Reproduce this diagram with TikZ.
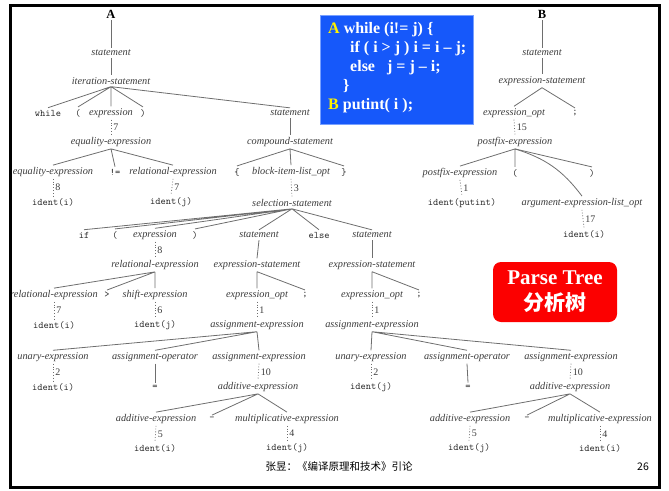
\documentclass[tikz,border=0pt]{standalone}
\usepackage{fontspec}
\setmainfont{Liberation Serif}
\newfontfamily\cjk{Noto Sans CJK SC}

\definecolor{treetext}{RGB}{60,60,60}
\definecolor{treeline}{RGB}{110,110,110}
\definecolor{codeblue}{RGB}{22,88,250}
\definecolor{codeedge}{RGB}{120,160,255}
\definecolor{tagred}{RGB}{252,0,0}

\tikzset{
  nt/.style={font=\fontsize{10.3}{12}\selectfont\itshape, text=treetext, inner sep=2pt},
  tok/.style={font=\fontsize{10}{12}\selectfont\ttfamily, text=treetext!70!black, inner sep=2pt},
  rootlabel/.style={font=\fontsize{12.5}{14}\selectfont\bfseries, text=black, inner sep=2pt},
  branch/.style={draw=treeline, line width=0.8pt},
  dotbranch/.style={draw=treeline, line width=0.8pt, dotted},
  num/.style={font=\fontsize{10}{12}\selectfont, text=treetext, anchor=west, inner sep=1pt, xshift=1pt},
  codebox/.style={fill=codeblue, draw=codeedge, line width=0.8pt,
    minimum width=153pt, minimum height=109pt},
  codetext/.style={text=white, font=\fontsize{16}{19}\selectfont\bfseries,
    align=left, inner sep=0pt, anchor=west},
  tagbox/.style={fill=tagred, rounded corners=8pt, text=white, align=center,
    font=\fontsize{21}{26}\selectfont\bfseries, minimum width=124pt, minimum height=60pt}
}

\begin{document}
\begin{tikzpicture}[x=1pt, y=-1pt]

\useasboundingbox (0,0) rectangle (669,490);

% tree A
\node[rootlabel] (A) at (111,14) {A};
\node[nt] (stmtA) at (111,53) {statement};
\node[nt] (iterA) at (111,81) {iteration-statement};
\node[tok] (while) at (48,113) {while};
\node[tok] (wlp) at (78,113) {(};
\node[nt] (wexpr) at (111,113) {expression};
\node[tok] (wrp) at (143,113) {)};
\node[nt] (body) at (290,113) {statement};
\node[nt] (eqexpr) at (111,142) {equality-expression};
\node[nt] (eqleft) at (53,172) {equality-expression};
\node[tok] (neq) at (115,172) {!=};
\node[nt] (relright) at (173,172) {relational-expression};
\node[tok] (idi1) at (53,202) {ident(i)};
\node[tok] (idj1) at (171,202) {ident(j)};
\node[nt] (compound) at (290,142) {compound-statement};
\node[tok] (lbrace) at (237,172) {\{};
\node[nt] (blocklist) at (291,172) {block-item-list\_opt};
\node[tok] (rbrace) at (344,172) {\}};
\node[nt] (select) at (292,203) {selection-statement};
\node[tok] (if) at (84,235) {if};
\node[tok] (ilp) at (115,235) {(};
\node[nt] (iexpr) at (155,235) {expression};
\node[tok] (irp) at (195,235) {)};
\node[nt] (thenst) at (259,235) {statement};
\node[tok] (else) at (319,235) {else};
\node[nt] (elsest) at (372,235) {statement};
\node[nt] (relexpr) at (155,265) {relational-expression};
\node[nt] (relleft) at (54,295) {relational-expression};
\node[tok] (gt) at (107,295) {>};
\node[nt] (shift) at (155,295) {shift-expression};
\node[tok] (idi2) at (54,325) {ident(i)};
\node[tok] (idj2) at (155,325) {ident(j)};

\node[nt] (thenes) at (257,265) {expression-statement};
\node[nt] (thenopt) at (257,295) {expression\_opt};
\node[tok] (thensemi) at (305,295) {;};
\node[nt] (thenasg) at (257,325) {assignment-expression};
\node[nt] (thenun) at (53,357) {unary-expression};
\node[nt] (thenop) at (155,357) {assignment-operator};
\node[nt] (thenrhs) at (259,357) {assignment-expression};
\node[tok] (idi3) at (53,387) {ident(i)};
\node[tok] (theneq) at (155,387) {=};
\node[nt] (thenadd) at (258,387) {additive-expression};
\node[nt] (thenaddl) at (156,419) {additive-expression};
\node[tok] (thenminus) at (212,419) {-};
\node[nt] (thenmul) at (287,419) {multiplicative-expression};
\node[tok] (idi4) at (155,448) {ident(i)};
\node[tok] (idj4) at (287,448) {ident(j)};

\node[nt] (elsees) at (372,265) {expression-statement};
\node[nt] (elseopt) at (372,295) {expression\_opt};
\node[tok] (elsesemi) at (419,295) {;};
\node[nt] (elseasg) at (372,325) {assignment-expression};
\node[nt] (elseun) at (371,357) {unary-expression};
\node[nt] (elseop) at (467,357) {assignment-operator};
\node[nt] (elserhs) at (571,357) {assignment-expression};
\node[tok] (idj5) at (371,387) {ident(j)};
\node[tok] (elseeq) at (468,387) {=};
\node[nt] (elseadd) at (570,387) {additive-expression};
\node[nt] (elseaddl) at (470,419) {additive-expression};
\node[tok] (elseminus) at (527,419) {-};
\node[nt] (elsemul) at (600,419) {multiplicative-expression};
\node[tok] (idj6) at (469,448) {ident(j)};
\node[tok] (idi6) at (600,448) {ident(i)};

% tree B
\node[rootlabel] (B) at (542,14) {B};
\node[nt] (stmtB) at (542,53) {statement};
\node[nt] (exprst) at (542,81) {expression-statement};
\node[nt] (optB) at (514,113) {expression\_opt};
\node[tok] (semiB) at (575,113) {;};
\node[nt] (postfix) at (515,142) {postfix-expression};
\node[nt] (postleft) at (460,173) {postfix-expression};
\node[tok] (plp) at (515,173) {(};
\node[tok] (prp) at (592,173) {)};
\node[tok] (idput) at (462,203) {ident(putint)};
\node[nt] (args) at (582,203) {argument-expression-list\_opt};
\node[tok] (idargs) at (584,234) {ident(i)};

\draw[branch] (A.south) -- (stmtA.north);
\draw[branch] (stmtA.south) -- (iterA.north);
\draw[branch] (iterA.south) -- (while.north) (iterA.south) -- (wlp.north)
  (iterA.south) -- (wexpr.north) (iterA.south) -- (wrp.north)
  (iterA.south) -- (body.north);
\draw[dotbranch] (wexpr.south) -- node[num]{7} (eqexpr.north);
\draw[branch] (eqexpr.south) -- (eqleft.north) (eqexpr.south) -- (neq.north)
  (eqexpr.south) -- (relright.north);
\draw[dotbranch] (eqleft.south) -- node[num]{8} (idi1.north);
\draw[dotbranch] (relright.south) -- node[num]{7} (idj1.north);
\draw[branch] (body.south) -- (compound.north);
\draw[branch] (compound.south) -- (lbrace.north) (compound.south) -- (blocklist.north)
  (compound.south) -- (rbrace.north);
\draw[dotbranch] (blocklist.south) -- node[num]{3} (select.north);
\draw[branch] (select.south) -- (if.north) (select.south) -- (ilp.north)
  (select.south) -- (iexpr.north) (select.south) -- (irp.north)
  (select.south) -- (thenst.north) (select.south) -- (else.north)
  (select.south) -- (elsest.north);
\draw[dotbranch] (iexpr.south) -- node[num]{8} (relexpr.north);
\draw[branch] (relexpr.south) -- (relleft.north) (relexpr.south) -- (gt.north)
  (relexpr.south) -- (shift.north);
\draw[dotbranch] (relleft.south) -- node[num]{7} (idi2.north);
\draw[dotbranch] (shift.south) -- node[num]{6} (idj2.north);

\draw[branch] (thenst.south) -- (thenes.north);
\draw[branch] (thenes.south) -- (thenopt.north) (thenes.south) -- (thensemi.north);
\draw[dotbranch] (thenopt.south) -- node[num]{1} (thenasg.north);
\draw[branch] (thenasg.south) -- (thenun.north) (thenasg.south) -- (thenop.north)
  (thenasg.south) -- (thenrhs.north);
\draw[dotbranch] (thenun.south) -- node[num]{2} (idi3.north);
\draw[branch] (thenop.south) -- (theneq.north);
\draw[dotbranch] (thenrhs.south) -- node[num]{10} (thenadd.north);
\draw[branch] (thenadd.south) -- (thenaddl.north) (thenadd.south) -- (thenminus.north)
  (thenadd.south) -- (thenmul.north);
\draw[dotbranch] (thenaddl.south) -- node[num]{5} (idi4.north);
\draw[dotbranch] (thenmul.south) -- node[num]{4} (idj4.north);

\draw[branch] (elsest.south) -- (elsees.north);
\draw[branch] (elsees.south) -- (elseopt.north) (elsees.south) -- (elsesemi.north);
\draw[dotbranch] (elseopt.south) -- node[num]{1} (elseasg.north);
\draw[branch] (elseasg.south) -- (elseun.north) (elseasg.south) -- (elseop.north)
  (elseasg.south) -- (elserhs.north);
\draw[dotbranch] (elseun.south) -- node[num]{2} (idj5.north);
\draw[branch] (elseop.south) -- (elseeq.north);
\draw[dotbranch] (elserhs.south) -- node[num]{10} (elseadd.north);
\draw[branch] (elseadd.south) -- (elseaddl.north) (elseadd.south) -- (elseminus.north)
  (elseadd.south) -- (elsemul.north);
\draw[dotbranch] (elseaddl.south) -- node[num]{5} (idj6.north);
\draw[dotbranch] (elsemul.south) -- node[num]{4} (idi6.north);

\draw[branch] (B.south) -- (stmtB.north);
\draw[branch] (stmtB.south) -- (exprst.north);
\draw[branch] (exprst.south) -- (optB.north) (exprst.south) -- (semiB.north);
\draw[dotbranch] (optB.south) -- node[num]{15} (postfix.north);
\draw[branch] (postfix.south) -- (postleft.north) (postfix.south) -- (plp.north)
  (postfix.south) -- (prp.north);
\draw[branch] (postfix.south) to[bend left=18] (args.north);
\draw[dotbranch] (postleft.south) -- node[num]{1} (idput.north);
\draw[dotbranch] (args.south) -- node[num]{17} (idargs.north);

% boxes and footer
\node[codebox] (code) at (397,70) {};
\node[codetext] (codelines) at (328,68) {{\color{yellow}A} while (i!= j) \{\\
\hspace*{22pt}if ( i > j ) i = i – j;\\
\hspace*{22pt}else \ \ j = j – i;\\
\hspace*{15pt}\}\\
{\color{yellow}B} putint( i );};
\node[tagbox] (tag) at (555,292) {Parse Tree\\{\cjk 分析树}};
\node[font=\cjk\fontsize{10.5}{12}\selectfont] (footer) at (339,467) {张昱：《编译原理和技术》引论};
\node[font=\cjk\fontsize{10.5}{12}\selectfont] (page) at (643,467) {26};

\draw[line width=3pt] (10,5) rectangle (659,487);

\end{tikzpicture}
\end{document}
